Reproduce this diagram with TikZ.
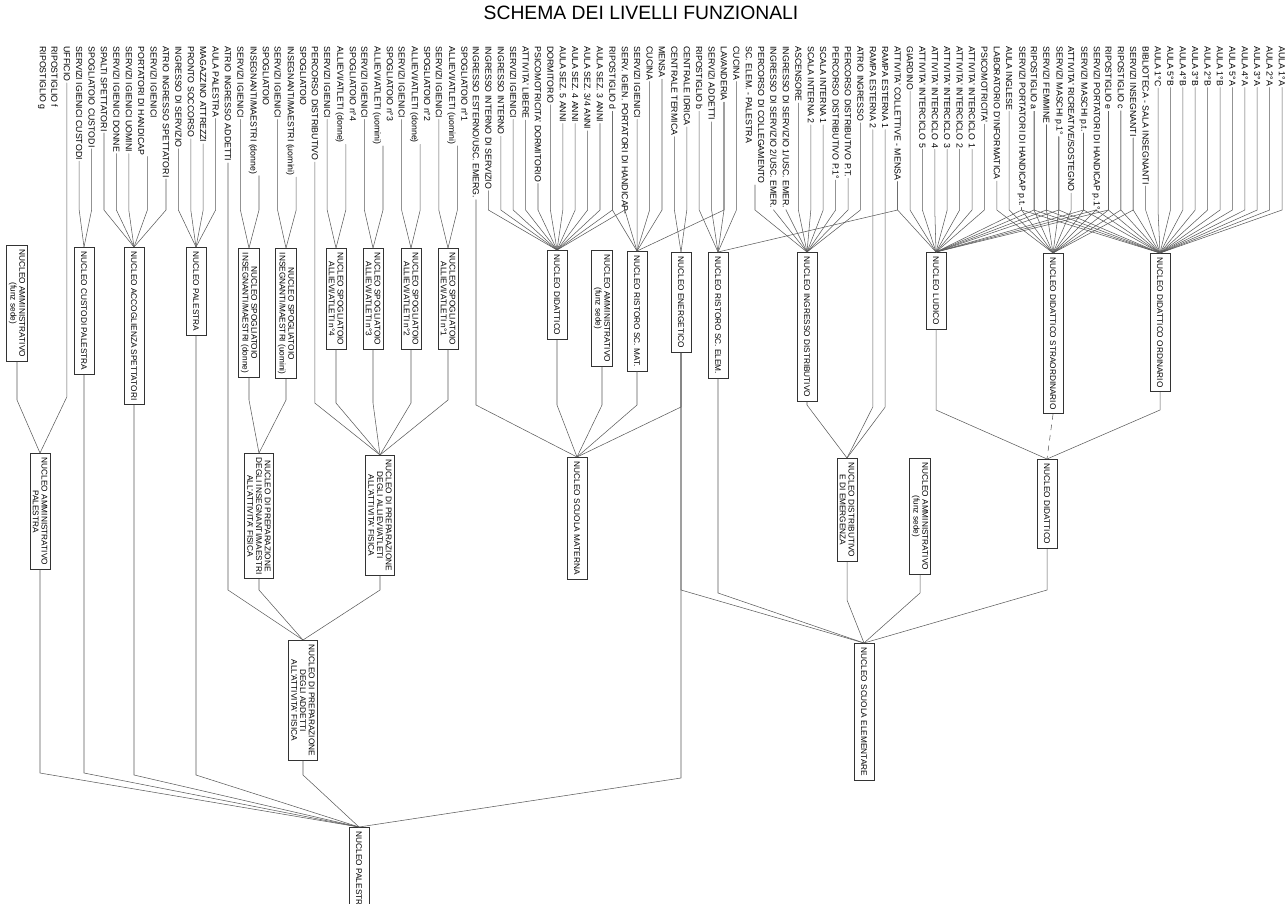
\documentclass[tikz,border=0pt]{standalone}
\usepackage{fontspec}
\setmainfont{Liberation Sans}
\usepackage{tikz}

\begin{document}
\begin{tikzpicture}[x=0.02cm, y=-0.02cm, line cap=round,
  lbl/.style={rotate=-90, anchor=west, inner sep=0.6pt, align=left,
    font=\fontsize{5.0}{7}\selectfont},
  nucleo/.style={draw=black!80, line width=0.45pt, rotate=-90, anchor=west,
    align=center, inner xsep=2.5pt, inner ysep=1.5pt, minimum height=11.5pt,
    font=\fontsize{4.7}{5}\selectfont},
  link/.style={draw=black!65, line width=0.3pt}]
  \useasboundingbox (0,0) rectangle (1287,903);
  % ---------- title ----------
  \node (titolo) at (641,13) {\fontsize{11}{13}\selectfont SCHEMA DEI LIVELLI FUNZIONALI};
  % ---------- 1. spaces (top row) ----------
  \foreach \k/\s/\t in {1/0/{RIPOSTIGLIO g}, 2/1/{RIPOSTIGLIO f}, 3/2/{UFFICIO},
      4/3/{SERVIZI IGIENICI CUSTODI}, 5/4/{SPOGLIATOIO CUSTODI}, 6/5/{SPALTI SPETTATORI},
      7/6/{SERVIZI IGIENICI DONNE}, 8/7/{SERVIZI IGIENICI UOMINI},
      9/8.5/{SERVIZI IGIENICI\\PORTATORI DI HANDICAP}, 10/10/{ATRIO INGRESSO SPETTATORI},
      11/11/{INGRESSO DI SERVIZIO}, 12/12/{PRONTO SOCCORSO}, 13/13/{MAGAZZINO ATTREZZI},
      14/14/{AULA PALESTRA}, 15/15/{ATRIO INGRESSO ADDETTI}, 16/16/{SERVIZI IGIENICI},
      17/17.5/{SPOGLIATOIO\\INSEGNANTI/MAESTRI (donne)}, 18/19/{SERVIZI IGIENICI},
      19/20.5/{SPOGLIATOIO\\INSEGNANTI/MAESTRI (uomini)}, 20/22/{PERCORSO DISTRIBUTIVO},
      21/23/{SERVIZI IGIENICI}, 22/24.5/{SPOGLIATOIO n°4\\ALLIEVI/ATLETI (donne)},
      23/26/{SERVIZI IGIENICI}, 24/27.5/{SPOGLIATOIO n°3\\ALLIEVI/ATLETI (uomini)},
      25/29/{SERVIZI IGIENICI}, 26/30.5/{SPOGLIATOIO n°2\\ALLIEVI/ATLETI (donne)},
      27/32/{SERVIZI IGIENICI}, 28/33.5/{SPOGLIATOIO n°1\\ALLIEVI/ATLETI (uomini)},
      29/35/{INGRESSO ESTERNO/USC. EMERG.}, 30/36/{INGRESSO INTERNO DI SERVIZIO},
      31/37/{INGRESSO INTERNO}, 32/38/{SERVIZI IGIENICI}, 33/39/{ATTIVITA' LIBERE},
      34/40/{PSICOMOTRICITA' DORMITORIO}, 35/41/{DORMITORIO}, 36/42/{AULA SEZ. 5 ANNI},
      37/43/{AULA SEZ. 4 ANNI}, 38/44/{AULA SEZ. 3/4 ANNI}, 39/45/{AULA SEZ. 3 ANNI},
      40/46/{RIPOSTIGLIO d}, 41/47/{SERV. IGIEN. PORTATORI DI HANDICAP},
      42/48/{SERVIZI IGIENICI}, 43/49/{CUCINA}, 44/50/{MENSA}, 45/51/{CENTRALE TERMICA},
      46/52/{CENTRALE IDRICA}, 47/53/{RIPOSTIGLIO b}, 48/54/{SERVIZI ADDETTI},
      49/55/{LAVANDERIA}, 50/56/{CUCINA},
      51/57.5/{PERCORSO DI COLLEGAMENTO\\SC. ELEM. - PALESTRA},
      52/59/{INGRESSO DI SERVIZIO 2/USC. EMER.}, 53/60/{INGRESSO DI SERVIZIO 1/USC. EMER.},
      54/61/{ASCENSORE}, 55/62/{SCALA INTERNA 2}, 56/63/{SCALA INTERNA 1},
      57/64/{PERCORSO DISTRIBUTIVO P.1°}, 58/65/{PERCORSO DISTRIBUTIVO P.T.},
      59/66/{ATRIO INGRESSO}, 60/67/{RAMPA ESTERNA 2}, 61/68/{RAMPA ESTERNA 1},
      62/69/{ATTIVITA' COLLETTIVE - MENSA}, 63/70/{GIARDINO},
      64/71/{ATTIVITA' INTERCICLO 5}, 65/72/{ATTIVITA' INTERCICLO 4},
      66/73/{ATTIVITA' INTERCICLO 3}, 67/74/{ATTIVITA' INTERCICLO 2},
      68/75/{ATTIVITA' INTERCICLO 1}, 69/76/{PSICOMOTRICITA'},
      70/77/{LABORATORIO D'INFORMATICA}, 71/78/{AULA INGLESE},
      72/79/{SERVIZI PORTATORI DI HANDICAP p.t.}, 73/80/{RIPOSTIGLIO a},
      74/81/{SERVIZI FEMMINE}, 75/82/{SERVIZI MASCHI p.1°},
      76/83/{ATTIVITA' RICREATIVE/SOSTEGNO}, 77/84/{SERVIZI MASCHI p.t.},
      78/85/{SERVIZI PORTATORI DI HANDICAP p.1°}, 79/86/{RIPOSTIGLIO e},
      80/87/{RIPOSTIGLIO c}, 81/88/{SERVIZI INSEGNANTI},
      82/89/{BIBLIOTECA - SALA INSEGNANTI}, 83/90/{AULA 1°C}, 84/91/{AULA 5°B},
      85/92/{AULA 4°B}, 86/93/{AULA 3°B}, 87/94/{AULA 2°B}, 88/95/{AULA 1°B},
      89/96/{AULA 5°A}, 90/97/{AULA 4°A}, 91/98/{AULA 3°A}, 92/99/{AULA 2°A},
      93/100/{AULA 1°A}}
    {\node[lbl] (t\k) at ({42+12.4*\s},45) {\t};}
  % ---------- 2. first level nuclei ----------
  \node[nucleo] (ammpal) at (17,245) {NUCLEO AMMINISTRATIVO\\(funz sede)};
  \node[nucleo] (custodi) at (84,247) {NUCLEO CUSTODI PALESTRA};
  \node[nucleo] (accoglienza) at (134,247) {NUCLEO ACCOGLIENZA SPETTATORI};
  \node[nucleo] (palestra) at (196,247) {NUCLEO PALESTRA};
  \node[nucleo] (spins1) at (249,248) {NUCLEO SPOGLIATOIO\\INSEGNANTI/MAESTRI (donne)};
  \node[nucleo] (spins2) at (286,248) {NUCLEO SPOGLIATOIO\\INSEGNANTI/MAESTRI (uomini)};
  \node[nucleo] (spall4) at (336,248) {NUCLEO SPOGLIATOIO\\ALLIEVI/ATLETI n°4};
  \node[nucleo] (spall3) at (373,248) {NUCLEO SPOGLIATOIO\\ALLIEVI/ATLETI n°3};
  \node[nucleo] (spall2) at (411,248) {NUCLEO SPOGLIATOIO\\ALLIEVI/ATLETI n°2};
  \node[nucleo] (spall1) at (448,248) {NUCLEO SPOGLIATOIO\\ALLIEVI/ATLETI n°1};
  \node[nucleo] (didmat) at (557,250) {NUCLEO DIDATTICO};
  \node[nucleo] (ammmat) at (602,250) {NUCLEO AMMINISTRATIVO\\(funz sede)};
  \node[nucleo] (ristmat) at (637,251) {NUCLEO RISTORO SC. MAT.};
  \node[nucleo] (energ) at (681,252) {NUCLEO ENERGETICO};
  \node[nucleo] (ristel) at (718,252) {NUCLEO RISTORO SC. ELEM.};
  \node[nucleo] (ingresso) at (807,252) {NUCLEO INGRESSO DISTRIBUTIVO};
  \node[nucleo] (ludico) at (936,252) {NUCLEO LUDICO};
  \node[nucleo] (straord) at (1053,253) {NUCLEO DIDATTICO STRAORDINARIO};
  \node[nucleo] (ordin) at (1160,253) {NUCLEO DIDATTICO ORDINARIO};
  % ---------- fans: spaces -> first level ----------
  \foreach \b/\list in {custodi/{4,5}, accoglienza/{6,7,8,9,10}, palestra/{11,12,13,14},
      spins1/{16,17}, spins2/{18,19}, spall4/{21,22}, spall3/{23,24}, spall2/{25,26},
      spall1/{27,28}, didmat/{30,...,41}, ristmat/{40,41,42,43,44,49}, energ/{45,46},
      ristel/{47,48,49,50,62}, ingresso/{51,...,59},
      ludico/{62,...,69,72,73,74,75,77,78,79}, straord/{70,...,81},
      ordin/{72,73,74,75,77,78,79,80,81,...,93}}
    \foreach \k in \list
      {\draw[link] (t\k.east) -- (t\k.east |- 0,210) -- (\b.west);}
  % ---------- 3. second level nuclei ----------
  \node[nucleo] (prepamm) at (40,453) {NUCLEO AMMINISTRATIVO\\PALESTRA};
  \node[nucleo] (prepins) at (259,453) {NUCLEO DI PREPARAZIONE\\DEGLI INSEGNANTI/MAESTRI\\ALL'ATTIVITA' FISICA};
  \node[nucleo] (prepall) at (380,455) {NUCLEO DI PREPARAZIONE\\DEGLI ALLIEVI/ATLETI\\ALL'ATTIVITA' FISICA};
  \node[nucleo] (materna) at (577,457) {NUCLEO SCUOLA MATERNA};
  \node[nucleo] (distrib) at (847,458) {NUCLEO DISTRIBUTIVO\\E DI EMERGENZA};
  \node[nucleo] (ammel) at (920,458) {NUCLEO AMMINISTRATIVO\\(funz sede)};
  \node[nucleo] (didel) at (1047,459) {NUCLEO DIDATTICO};
  % ---------- 4. third level nuclei ----------
  \node[nucleo] (prepadd) at (303,640) {NUCLEO DI PREPARAZIONE\\DEGLI ADDETTI\\ALL'ATTIVITA' FISICA};
  \node[nucleo] (elementare) at (864,643) {NUCLEO SCUOLA ELEMENTARE};
  % ---------- 5. root ----------
  \node[nucleo] (radice) at (359,827) {NUCLEO PALESTRA};
  % ---------- links between levels ----------
  \foreach \a/\b/\y in {ammpal/prepamm/400, t3/prepamm/397, spins1/prepins/400,
      spins2/prepins/400, t20/prepall/403, spall4/prepall/403, spall3/prepall/403,
      spall2/prepall/403, spall1/prepall/400, t29/materna/405, didmat/materna/405,
      ammmat/materna/405, ristmat/materna/405, energ/materna/407, ingresso/distrib/405,
      t60/distrib/407, t61/distrib/407, ludico/didel/410, ordin/didel/410,
      t15/prepadd/590, prepins/prepadd/590, prepall/prepadd/590, energ/elementare/590,
      ristel/elementare/593, distrib/elementare/600, ammel/elementare/593,
      didel/elementare/590, prepamm/radice/773, custodi/radice/773,
      accoglienza/radice/775, palestra/radice/775, prepadd/radice/775, energ/radice/778}
    {\draw[link] (\a.east) -- (\a.east |- 0,\y) -- (\b.west);}
  \draw[link, dashed] (straord.east) -- (didel.west);
\end{tikzpicture}
\end{document}
